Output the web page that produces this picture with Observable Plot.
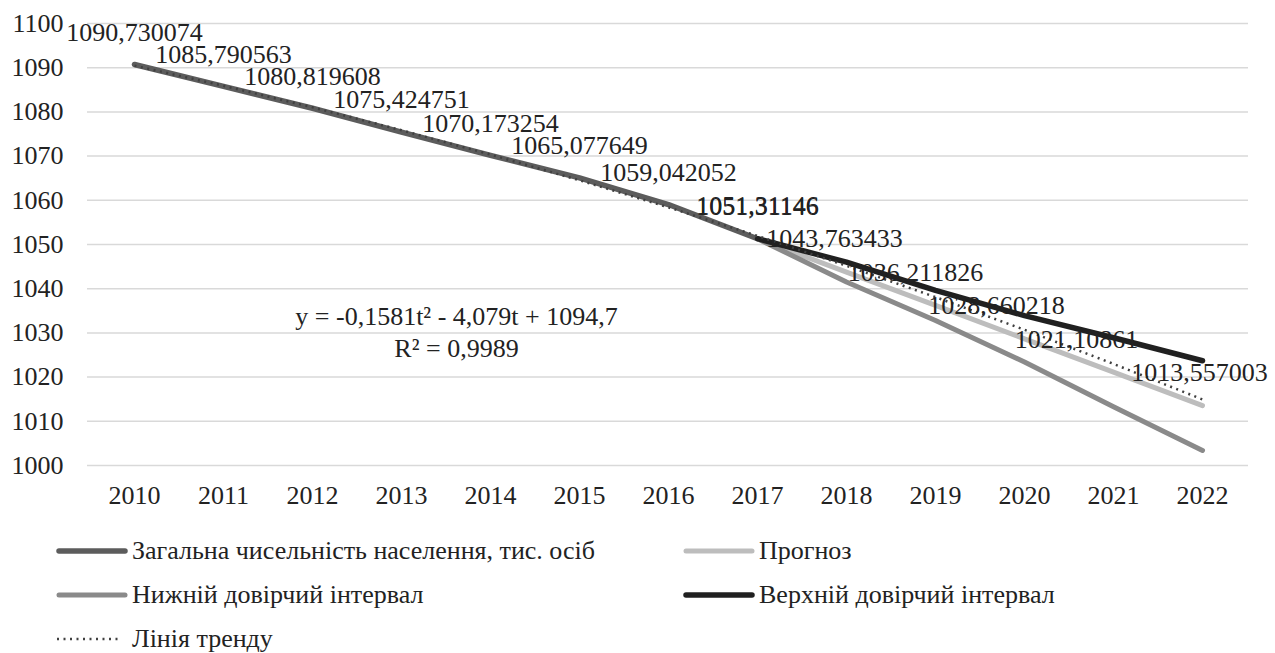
<!DOCTYPE html>
<html>
<head>
<meta charset="utf-8">
<script src="https://cdn.jsdelivr.net/npm/d3@7"></script>
<script src="https://cdn.jsdelivr.net/npm/@observablehq/plot@0.6"></script>
<style>
  html, body { margin: 0; padding: 0; background: #fff; }
  body { width: 1275px; height: 653px; overflow: hidden; font-family: "Liberation Serif", serif; color: #222; }
  #legend { display: grid; grid-template-columns: 627px 560px; padding-left: 55px; padding-top: 9px; }
  .item { display: flex; align-items: center; height: 44px; font-size: 26px; white-space: nowrap; font-family: "Liberation Serif", serif; }
  .item svg { margin-right: 3px; flex: none; }
  svg text { font-family: "Liberation Serif", serif; }
</style>
</head>
<body>
<div id="chart"></div>
<div id="legend"></div>
<script>
// ---- data ----
const years = ["2010","2011","2012","2013","2014","2015","2016","2017","2018","2019","2020","2021","2022"];
const yTicks = [1000,1010,1020,1030,1040,1050,1060,1070,1080,1090,1100];

const mainYears = ["2010","2011","2012","2013","2014","2015","2016","2017"];
const mainValues = [1090.730074,1085.790563,1080.819608,1075.424751,1070.173254,1065.077649,1059.042052,1051.31146];

const forecastYears = ["2017","2018","2019","2020","2021","2022"];
const forecastValues = [1051.31146,1043.763433,1036.211826,1028.660218,1021.10861,1013.557003];
const lowerValues = [1051.31146,1041.5,1032.8,1023.4,1013.3,1003.4];
const upperValues = [1051.31146,1046.0,1039.6,1033.9,1028.9,1023.7];

const trendValues = [1090.46,1085.91,1081.04,1075.85,1070.35,1064.53,1058.40,1051.95,1045.18,1038.10,1030.70,1022.99,1014.95];

const seriesNames = ["Загальна чисельність населення, тис. осіб","Прогноз","Нижній довірчий інтервал","Верхній довірчий інтервал","Лінія тренду"];
const equationText = "y = -0,1581t² - 4,079t + 1094,7\nR² = 0,9989";

// ---- build tables ----
const main = mainYears.map((y,i)=>({year:y, value:mainValues[i]}));
const forecast = forecastYears.map((y,i)=>({year:y, value:forecastValues[i]}));
const lower = forecastYears.map((y,i)=>({year:y, value:lowerValues[i]}));
const upper = forecastYears.map((y,i)=>({year:y, value:upperValues[i]}));
const trend = years.map((y,i)=>({year:y, value:trendValues[i]}));

// label nudges (px) for forecast data labels, as placed in the original
const forecastLabelShift = [0,-12,-20,-28,-37,-3];

const FONT = '"Liberation Serif", serif';
const FS = 26;
const fmt = v => String(v).replace(".", ",");

const styles = [
  {stroke:"#5c5c5c", strokeWidth:5.5},
  {stroke:"#bdbdbd", strokeWidth:5},
  {stroke:"#8a8a8a", strokeWidth:5},
  {stroke:"#202020", strokeWidth:5.5},
  {stroke:"#404040", strokeWidth:2.5, strokeDasharray:"2,4.5"}
];

const lineOpts = (s) => ({x:"year", y:"value", strokeLinecap: s.strokeDasharray ? "butt" : "round", strokeLinejoin:"round", ...s});

const chart = Plot.plot({
  width: 1275,
  height: 520,
  marginLeft: 87,
  marginRight: 27,
  marginTop: 23,
  marginBottom: 55,
  style: {fontFamily: FONT, color: "#222", background: "#fff"},
  x: {type: "point", domain: years, padding: 0.5, label: null},
  y: {domain: [1000, 1100], label: null},
  marks: [
    Plot.gridY(yTicks, {stroke: "#d9d9d9", strokeOpacity: 1, strokeWidth: 1.5}),
    Plot.axisY(yTicks, {tickSize: 0, tickPadding: 24, fontSize: FS, fill: "#222", label: null, tickFormat: d => String(d)}),
    Plot.axisX(years, {tickSize: 0, tickPadding: 20, fontSize: FS, fill: "#222", label: null}),
    Plot.line(main, lineOpts(styles[0])),
    Plot.line(forecast, lineOpts(styles[1])),
    Plot.line(lower, lineOpts(styles[2])),
    Plot.line(upper, lineOpts(styles[3])),
    Plot.line(trend, lineOpts(styles[4])),
    Plot.text(main, {x:"year", y:"value", text: d => fmt(d.value), dy: -32, fontSize: FS, fill: "#222", fontFamily: FONT}),
    ...forecast.map((d, i) => Plot.text([d], {x:"year", y:"value", text: d => fmt(d.value), dx: forecastLabelShift[i], dy: -33, fontSize: FS, fill: "#222", fontFamily: FONT})),
    Plot.text([equationText], {x: () => "2014", y: () => 1030.5, text: d => d, dx: -34, fontSize: FS, lineHeight: 1.25, fill: "#222", fontFamily: FONT})
  ]
});
document.getElementById("chart").appendChild(chart);

// ---- legend ----
const legendOrder = [0,1,2,3,4];
const legend = document.getElementById("legend");
legendOrder.forEach(i => {
  const s = styles[i];
  const item = document.createElement("div");
  item.className = "item";
  const dash = s.strokeDasharray ? `stroke-dasharray="${s.strokeDasharray}"` : "";
  const cap = s.strokeDasharray ? "butt" : "round";
  const x1 = s.strokeDasharray ? 2 : 4, x2 = s.strokeDasharray ? 66 : 70;
  item.innerHTML = `<svg width="74" height="12"><line x1="${x1}" y1="6" x2="${x2}" y2="6" stroke="${s.stroke}" stroke-width="${s.strokeWidth}" stroke-linecap="${cap}" ${dash}/></svg><span>${seriesNames[i]}</span>`;
  legend.appendChild(item);
});
</script>
</body>
</html>
